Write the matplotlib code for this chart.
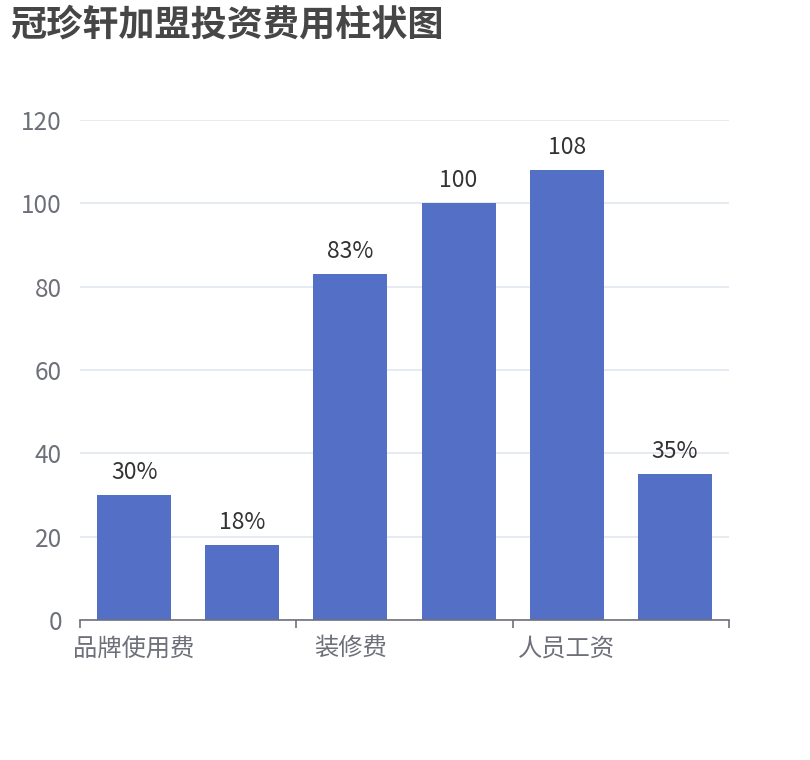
import matplotlib
matplotlib.use('Agg')
from matplotlib import pyplot as plt

plt.rcParams['font.family'] = ['Noto Sans CJK SC', 'DejaVu Sans']

categories = ['品牌使用费', '', '装修费', '', '人员工资', '']
values = [30, 18, 83, 100, 108, 35]
value_labels = ['30%', '18%', '83%', '100', '108', '35%']
y_ticks = [0, 20, 40, 60, 80, 100, 120]

BAR = '#5470c6'
AXIS = '#6E7079'
GRID = '#E0E6F1'


def main():
    fig = plt.figure(figsize=(8.1, 7.6), dpi=100)
    ax = fig.add_axes([80 / 810, 140 / 760, 649 / 810, 500 / 760])

    x = list(range(len(values)))
    bars = ax.bar(x, values, width=0.685, color=BAR, zorder=3)
    for b, lab in zip(bars, value_labels):
        ax.annotate(lab, (b.get_x() + b.get_width() / 2, b.get_height()),
                    xytext=(0, 8), textcoords='offset points',
                    ha='center', va='bottom', fontsize=16.5, color='#333333')

    ax.set_xlim(-0.5, len(values) - 0.5)
    ax.set_ylim(0, 120)
    ax.set_yticks(y_ticks)
    ax.set_yticklabels([str(v) for v in y_ticks], fontsize=17.5, color=AXIS)
    ax.tick_params(axis='y', length=0, pad=13)
    ax.yaxis.grid(True, color=GRID, linewidth=1.2, zorder=0)

    # tick marks between every second category, labels on shown categories
    ax.set_xticks([-0.5, 1.5, 3.5, 5.5])
    ax.set_xticklabels([])
    ax.tick_params(axis='x', which='major', length=6, width=1.2, color=AXIS)
    shown = [i for i, c in enumerate(categories) if c]
    ax.set_xticks(shown, minor=True)
    ax.set_xticklabels([categories[i] for i in shown], minor=True,
                       fontsize=17.5, color=AXIS)
    ax.tick_params(axis='x', which='minor', length=0, pad=11)

    for s in ['top', 'right', 'left']:
        ax.spines[s].set_visible(False)
    ax.spines['bottom'].set_color(AXIS)
    ax.spines['bottom'].set_linewidth(1.2)
    ax.spines['bottom'].set_zorder(4)

    fig.text(10 / 810, 1 - 25 / 760, '冠珍轩加盟投资费用柱状图', fontsize=26,
             fontweight='bold', color='#464646', va='center', ha='left')

    fig.savefig('out.png', dpi=100)


if __name__ == '__main__':
    main()
